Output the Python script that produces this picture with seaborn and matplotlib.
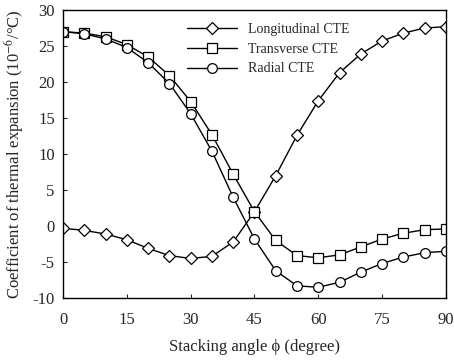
import numpy as np
import pandas as pd
import matplotlib
matplotlib.use("Agg")
import matplotlib.pyplot as plt
import seaborn as sns

angles = [0, 5, 10, 15, 20, 25, 30, 35, 40, 45, 50, 55, 60, 65, 70, 75, 80, 85, 90]
longitudinal = [-0.3, -0.6, -1.1, -1.9, -3.1, -4.1, -4.5, -4.2, -2.2, 2.0, 7.0, 12.6, 17.4, 21.3, 23.9, 25.7, 26.8, 27.5, 27.7]
transverse = [27.0, 26.8, 26.3, 25.2, 23.5, 20.9, 17.3, 12.7, 7.2, 2.0, -2.0, -4.1, -4.4, -4.0, -2.9, -1.8, -1.0, -0.5, -0.4]
radial = [27.0, 26.7, 26.0, 24.8, 22.7, 19.8, 15.6, 10.4, 4.0, -1.8, -6.2, -8.3, -8.5, -7.8, -6.4, -5.2, -4.3, -3.7, -3.5]
series_names = ["Longitudinal CTE", "Transverse CTE", "Radial CTE"]
x_ticks = [0, 15, 30, 45, 60, 75, 90]
y_ticks = [-10, -5, 0, 5, 10, 15, 20, 25, 30]

sns.set_style("ticks")
plt.rcParams['font.family'] = ['Liberation Serif', 'DejaVu Serif']
plt.rcParams['mathtext.fontset'] = 'stix'
plt.rcParams['axes.unicode_minus'] = False

fig = plt.figure(figsize=(4.54, 3.60), dpi=100)
ax = fig.add_axes([0.139, 0.172, 0.843, 0.800])

markers = ["D", "s", "o"]
msizes = [6, 7, 7]
for name, vals, mk, ms in zip(series_names, [longitudinal, transverse, radial], markers, msizes):
    df = pd.DataFrame({"angle": angles, "cte": vals})
    sns.lineplot(data=df, x="angle", y="cte", ax=ax, color="black", linewidth=1.0,
                 marker=mk, markersize=ms, markerfacecolor="white",
                 markeredgecolor="black", markeredgewidth=0.9, label=name)

ax.set_xlim(0, 90)
ax.set_ylim(-10, 30)
ax.set_xticks(x_ticks)
ax.set_yticks(y_ticks)
ax.tick_params(direction="in", length=3, labelsize=12, width=0.8)
ax.tick_params(axis="x", pad=10)
ax.tick_params(axis="y", pad=6)
for s in ax.spines.values():
    s.set_linewidth(1.0)
    s.set_color("black")
ax.set_xlabel("Stacking angle ϕ (degree)", fontsize=12, labelpad=8)
ax.set_ylabel("Coefficient of thermal expansion (10$^{-6}$/°C)", fontsize=12, labelpad=5)

leg = ax.legend(loc="upper left", bbox_to_anchor=(0.29, 1.0), frameon=False, fontsize=10,
                handlelength=3.6, handletextpad=0.8, labelspacing=0.5)

fig.savefig("out.png", dpi=100)
